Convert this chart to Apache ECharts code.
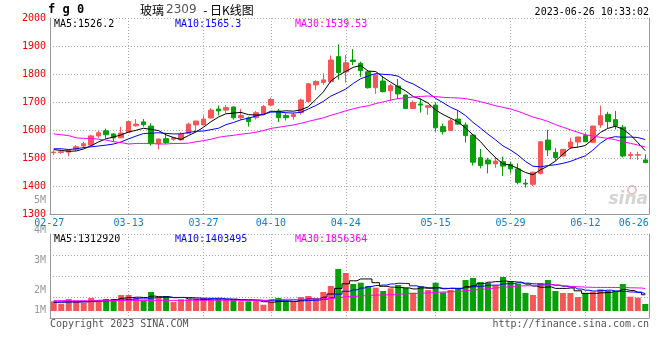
<!DOCTYPE html>
<html><head><meta charset="utf-8">
<script src="https://cdn.jsdelivr.net/npm/echarts@6/dist/echarts.min.js"></script>
<style>html,body{margin:0;padding:0;background:#fff}#c{width:660px;height:360px}</style>
</head><body><div id="c"></div>
<script>
const dates = ['02-27','02-28','03-01','03-02','03-03','03-06','03-07','03-08','03-09','03-10',
 '03-13','03-14','03-15','03-16','03-17','03-20','03-21','03-22','03-23','03-24',
 '03-27','03-28','03-29','03-30','03-31','04-03','04-04','04-06','04-07',
 '04-10','04-11','04-12','04-13','04-14','04-17','04-18','04-19','04-20','04-21',
 '04-24','04-25','04-26','04-27','04-28','05-04','05-05','05-08','05-09','05-10','05-11','05-12',
 '05-15','05-16','05-17','05-18','05-19','05-22','05-23','05-24','05-25','05-26',
 '05-29','05-30','05-31','06-01','06-02','06-05','06-06','06-07','06-08','06-09',
 '06-12','06-13','06-14','06-15','06-16','06-19','06-20','06-21',
 '06-26'];
const opens  = [1519,1520,1521,1531,1543,1546,1579,1597,1586,1572,1592,1615,1629,1614,1551,1569,1567,1565,1588,1618,
 1618,1643,1675,1671,1682,1644,1643,1644,1657,1689,1668,1652,1648,1662,1702,1761,1770,1773,1862,1808,
 1850,1838,1808,1751,1775,1740,1757,1725,1677,1693,1681,1689,1612,1598,1639,1618,1582,1501,1493,1479,
 1487,1477,1461,1410,1406,1445,1564,1520,1507,1538,1557,1580,1556,1618,1656,1637,1610,1509,1510,1493];
const closes = [1521,1522,1528,1540,1551,1579,1590,1583,1572,1589,1630,1621,1619,1551,1568,1555,1572,1585,1621,1632,
 1639,1671,1668,1680,1644,1652,1630,1662,1684,1709,1644,1644,1655,1707,1765,1773,1779,1850,1805,1840,
 1845,1812,1751,1796,1737,1758,1729,1677,1698,1689,1687,1608,1594,1633,1621,1580,1485,1473,1479,1489,
 1471,1461,1413,1407,1449,1558,1529,1502,1531,1557,1575,1558,1614,1651,1630,1614,1507,1513,1512,1484];
const lows   = [1511,1515,1506,1525,1535,1545,1572,1569,1558,1571,1591,1612,1612,1544,1531,1550,1561,1562,1587,1594,
 1617,1641,1652,1660,1637,1637,1612,1637,1653,1684,1628,1634,1637,1655,1698,1743,1761,1768,1780,1769,
 1832,1790,1748,1729,1734,1705,1711,1675,1675,1662,1654,1594,1584,1597,1618,1555,1473,1463,1445,1465,
 1436,1445,1406,1394,1400,1441,1507,1490,1505,1532,1538,1557,1553,1608,1606,1602,1502,1495,1493,1481];
const highs  = [1528,1527,1529,1546,1558,1583,1597,1605,1588,1611,1632,1639,1639,1624,1569,1587,1576,1592,1626,1633,
 1652,1678,1687,1689,1685,1675,1648,1668,1689,1716,1675,1660,1662,1712,1768,1778,1802,1866,1906,1868,
 1889,1844,1811,1802,1793,1764,1782,1727,1705,1713,1688,1698,1623,1641,1668,1627,1585,1532,1501,1503,
 1505,1487,1481,1425,1451,1559,1600,1535,1532,1572,1576,1588,1615,1687,1665,1668,1618,1522,1522,1513];
const volumes = [781000,588000,966000,725000,668000,1047000,886000,966000,966000,1288000,
 1288000,1047000,861000,1530000,1047000,1208000,725000,942000,942000,942000,
 1047000,942000,942000,886000,886000,781000,781000,781000,507000,725000,
 1047000,829000,725000,1127000,1208000,966000,1530000,2013000,3381000,3059000,
 2174000,2278000,2013000,1876000,1610000,1827000,2093000,1876000,1473000,2013000,
 1691000,2278000,1505000,1691000,1852000,2496000,2657000,2335000,2254000,2069000,
 2737000,2391000,2174000,1449000,1288000,2254000,2496000,1610000,1449000,1449000,
 1127000,1449000,1554000,1747000,1610000,1586000,2174000,1151000,1071000,564000];
// moving-average values for days whose window starts before the chart
const ma5Head  = [1530,1527,1524,1525];
const ma10Head = [1533,1533,1530,1533,1537,1540,1543,1546,1550];
const ma30Head = [1586,1583,1580,1572,1570,1570,1567,1564,1558,1555,1550,1552,1552,1552,1550,1550,1552,1552,1553,1558,
 1562,1567,1574,1578,1581,1585,1588,1592,1598];
const volMa5Head  = [700000,720000,740000,730000];
const volMa10Head = [720000,720000,730000,735000,745000,765000,790000,820000,850000];
const volMa30Head = [835000,835000,830000,830000,830000,835000,835000,840000,840000,845000,845000,845000,850000,850000,855000,
 855000,855000,860000,860000,860000,860000,860000,860000,860000,860000,855000,855000,855000,855000];
const priceMin = 1300, priceMax = 2000, priceStep = 100;
const volMin = -563500, volMax = 6198500;
const volTickLabels = ['1M','2M','3M','4M','5M'];
const labelIdx = [0,10,20,29,39,51,61,71,79];
const gridIdx = [10,20,29,39,51,61,71];
const legendMain = ['MA5:1526.2','MA10:1565.3','MA30:1539.53'];
const legendVol = ['MA5:1312920','MA10:1403495','MA30:1856364'];
const maColors = ['#000000','#0000ff','#ff00ff'];

const MONO = '"DejaVu Sans Mono", monospace';
const RED = '#f65656', GREEN = '#04a004';
const GRID_LINE = {color:'#aaaaaa', type:[1,2], width:1};
const AXIS_LINE = {show:true, onZero:false, lineStyle:{color:'#999999', width:1}};

function ma(vals, n, head){
  return vals.map((v,i)=> i < n-1 ? head[i] :
    Math.round(vals.slice(i-n+1,i+1).reduce((a,b)=>a+b,0)/n*100)/100);
}
const candle = opens.map((o,i)=>[o, closes[i], lows[i], highs[i]]);
const volData = volumes.map((v,i)=>({value:v, itemStyle:{color: closes[i] >= opens[i] ? RED : GREEN}}));

const chart = echarts.init(document.getElementById('c'), null, {renderer:'canvas'});
const lineSeries = (name, data, color, xi, yi, step) => ({
  name, type:'line', data, xAxisIndex:xi, yAxisIndex:yi, showSymbol:false, symbol:'none',
  step: step || false, lineStyle:{color, width:1}, itemStyle:{color}, z:3, silent:true
});
const catAxis = (gi, showLabel) => ({
  type:'category', gridIndex:gi, data:dates, boundaryGap:true,
  axisLine:AXIS_LINE, axisTick:{show:false},
  axisLabel: showLabel ? {
    interval:(i)=>labelIdx.includes(i), color:'#1080d0', fontFamily:MONO, fontSize:10, margin:4,
    formatter:(v,i)=> i===0 ? '{f|'+v+'}' : (i===dates.length-1 ? '{l|'+v+'}' : v),
    rich:{
      f:{padding:[0,9,0,0], color:'#1080d0', fontFamily:MONO, fontSize:10},
      l:{padding:[0,23,0,0], color:'#1080d0', fontFamily:MONO, fontSize:10}
    }
  } : {show:false},
  splitLine:{show:true, interval:(i)=>gridIdx.includes(i), alignWithLabel:true, lineStyle:GRID_LINE}
});

chart.setOption({
  animation:false,
  backgroundColor:'#ffffff',
  grid:[
    {left:50, top:18, width:599, height:196},
    {left:50, top:234, width:599, height:84},
    {left:50, top:200, width:599, height:120}
  ],
  xAxis:[ catAxis(0,true), catAxis(1,false), {type:'value', gridIndex:2, show:false, min:0, max:1} ],
  yAxis:[
    {type:'value', gridIndex:0, min:priceMin, max:priceMax, interval:priceStep,
     axisLine:AXIS_LINE, axisTick:{show:false},
     axisLabel:{color:'#ee0000', fontFamily:MONO, fontSize:10, margin:4, formatter:(v)=>String(v)},
     splitLine:{show:true, lineStyle:GRID_LINE}},
    {type:'value', gridIndex:0, position:'right', min:0, max:1,
     axisLine:AXIS_LINE, axisTick:{show:false}, axisLabel:{show:false}, splitLine:{show:false}},
    {type:'value', gridIndex:1, min:volMin, max:volMax,
     axisLine:AXIS_LINE, axisTick:{show:false}, axisLabel:{show:false}, splitLine:{show:false}},
    {type:'value', gridIndex:1, position:'right', min:0, max:4, interval:1,
     axisLine:AXIS_LINE, axisTick:{show:false}, axisLabel:{show:false}, splitLine:{show:true, lineStyle:GRID_LINE}},
    {type:'value', gridIndex:2, min:1, max:5, interval:1,
     axisLine:{show:false}, axisTick:{show:false}, splitLine:{show:false},
     axisLabel:{color:'#999999', fontFamily:MONO, fontSize:10, margin:4,
       formatter:(v)=> v===1 ? '{b|'+volTickLabels[0]+'}' : volTickLabels[v-1],
       rich:{b:{padding:[0,0,20,0], color:'#999999', fontFamily:MONO, fontSize:10}}}}
  ],
  series:[
    {type:'candlestick', xAxisIndex:0, yAxisIndex:0, data:candle, barWidth:5, silent:true,
     itemStyle:{color:RED, color0:GREEN, borderColor:RED, borderColor0:GREEN, borderWidth:1}},
    lineSeries('MA5', ma(closes,5,ma5Head), maColors[0], 0, 0),
    lineSeries('MA10', ma(closes,10,ma10Head), maColors[1], 0, 0),
    lineSeries('MA30', ma(closes,30,ma30Head), maColors[2], 0, 0),
    {type:'bar', xAxisIndex:1, yAxisIndex:2, data:volData, barWidth:6, silent:true},
    lineSeries('VMA5', ma(volumes,5,volMa5Head), maColors[0], 1, 2, 'middle'),
    lineSeries('VMA10', ma(volumes,10,volMa10Head), maColors[1], 1, 2, 'middle'),
    lineSeries('VMA30', ma(volumes,30,volMa30Head), maColors[2], 1, 2, 'middle')
  ],
  graphic:[
    {type:'text', x:48, y:10, style:{text:'f g 0', font:'bold 12px '+MONO, fill:'#000', verticalAlign:'middle'}},
    {type:'text', x:140, y:10, style:{text:'{c|玻璃}{d|2309}{c| - 日K线图}', verticalAlign:'middle',
      rich:{c:{font:'12px "Noto Sans CJK SC"', fill:'#000', padding:[0,2,0,0]}, d:{font:'12px "DejaVu Sans"', fill:'#555', padding:[0,4,0,0]}}}},
    {type:'text', x:649, y:12, style:{text:'2023-06-26 10:33:02', font:'10px '+MONO, fill:'#000', align:'right', verticalAlign:'middle'}},
    {type:'text', x:54, y:24, style:{text:legendMain[0], font:'10px '+MONO, fill:maColors[0], verticalAlign:'middle'}},
    {type:'text', x:175, y:24, style:{text:legendMain[1], font:'10px '+MONO, fill:maColors[1], verticalAlign:'middle'}},
    {type:'text', x:295, y:24, style:{text:legendMain[2], font:'10px '+MONO, fill:maColors[2], verticalAlign:'middle'}},
    {type:'text', x:54, y:239, style:{text:legendVol[0], font:'10px '+MONO, fill:maColors[0], verticalAlign:'middle'}},
    {type:'text', x:175, y:239, style:{text:legendVol[1], font:'10px '+MONO, fill:maColors[1], verticalAlign:'middle'}},
    {type:'text', x:295, y:239, style:{text:legendVol[2], font:'10px '+MONO, fill:maColors[2], verticalAlign:'middle'}},
    {type:'text', x:50, y:324, style:{text:'Copyright 2023 SINA.COM', font:'10px '+MONO, fill:'#555', verticalAlign:'middle'}},
    {type:'text', x:649, y:324, style:{text:'http://finance.sina.com.cn', font:'10px '+MONO, fill:'#555', align:'right', verticalAlign:'middle'}},
    {type:'circle', shape:{cx:632, cy:190, r:4}, style:{fill:'none', stroke:'#e6c4c4', lineWidth:2}},
    {type:'text', x:648, y:200, style:{text:'sina', font:'italic bold 17px "DejaVu Sans"', fill:'#d4d4d4', align:'right', verticalAlign:'middle'}}
  ]
});
</script></body></html>
